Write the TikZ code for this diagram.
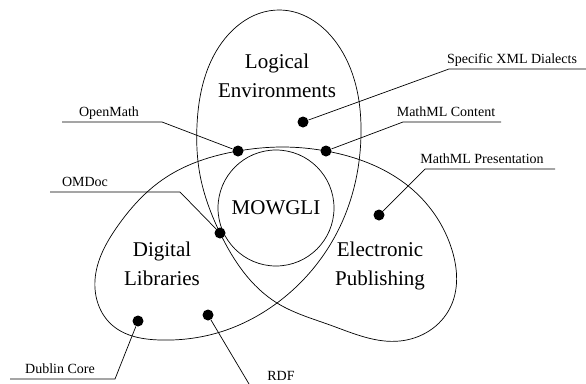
\documentclass[tikz,border=0pt]{standalone}
\usepackage{fontspec}
\setmainfont{Liberation Serif}
\usetikzlibrary{hobby}
\begin{document}
\begin{tikzpicture}[x=1pt,y=-1pt,line width=0.7pt,
                        dot/.style={circle,fill,inner sep=0pt,minimum size=11pt},
                        area label/.style={align=center,font=\fontsize{21}{29}\selectfont},
                        tag label/.style={anchor=base,font=\fontsize{14}{16}\selectfont}]
    \useasboundingbox (0,0) rectangle (586,383);

    % Define outline
    \draw[use Hobby shortcut,closed=true] (238,151) .. (282,147) .. (326,151)
        .. (413,190) .. (452,250) .. (450,308) .. (400,341) .. (330,325)
        .. (277,303) .. (220,233) .. (200,175) .. (197,125) .. (213,57)
        .. (280,10) .. (340,48) .. (361,135) .. (343,220) .. (277,303)
        .. (217,333) .. (160,340) .. (112,325) .. (95,280) .. (117,227)
        .. (165,178);

    % Define areas
    \node[draw,circle,minimum size=116pt,inner sep=0pt,area label] (mowgli) at (276,208) {MOWGLI};
    \node[area label] (logic) at (277,76) {Logical\\Environments};
    \node[area label] (diglib) at (162,264) {Digital\\Libraries};
    \node[area label] (epub) at (380,266) {Electronic\\Publishing};

    % Define dots
    \node[dot] (om) at (238,151) {};
    \node[dot] (mmlc) at (326,151) {};
    \node[dot] (xml) at (303,122) {};
    \node[dot] (mmlp) at (379,215) {};
    \node[dot] (omdoc) at (220,233) {};
    \node[dot] (dc) at (138,321) {};
    \node[dot] (rdf) at (208,315) {};

    % Define tags
    \node[tag label] (om-t) at (109,116) {OpenMath};
    \node[tag label] (omdoc-t) at (85,186) {OMDoc};
    \node[tag label] (xml-t) at (512,63) {Specific XML Dialects};
    \node[tag label] (mmlc-t) at (446,116) {MathML Content};
    \node[tag label] (mmlp-t) at (482,163) {MathML Presentation};
    \node[tag label] (dc-t) at (60,373) {Dublin Core};
    \node[tag label] (rdf-t) at (281,380) {RDF};

    \coordinate (om-k) at (162,122);  \coordinate (om-e) at (62,122);
    \coordinate (omdoc-k) at (180,192); \coordinate (omdoc-e) at (50,192);
    \coordinate (xml-k) at (449,69);  \coordinate (xml-e) at (586,69);
    \coordinate (mmlc-k) at (403,122); \coordinate (mmlc-e) at (501,122);
    \coordinate (mmlp-k) at (425,169); \coordinate (mmlp-e) at (555,169);
    \coordinate (dc-k) at (115,379);  \coordinate (dc-e) at (10,379);
    \coordinate (rdf-k) at (252,389); \coordinate (rdf-e) at (320,389);

    % Define leaders
    \draw (om) -- (om-k) -- (om-e);
    \draw (omdoc) -- (omdoc-k) -- (omdoc-e);
    \draw (xml) -- (xml-k) -- (xml-e);
    \draw (mmlc) -- (mmlc-k) -- (mmlc-e);
    \draw (mmlp) -- (mmlp-k) -- (mmlp-e);
    \draw (dc) -- (dc-k) -- (dc-e);
    \draw (rdf) -- (rdf-k) -- (rdf-e);

\end{tikzpicture}
\end{document}
